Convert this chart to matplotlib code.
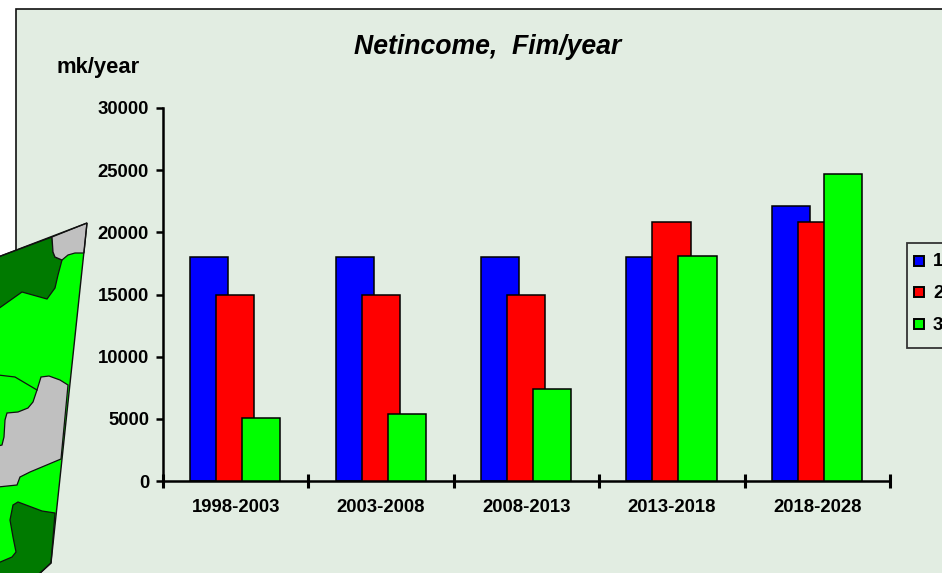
import numpy as np
import matplotlib
matplotlib.use('Agg')
import matplotlib.pyplot as plt
from matplotlib.patches import Polygon, Rectangle

plt.rcParams['font.family'] = ['Liberation Sans', 'DejaVu Sans']

periods = ['1998-2003', '2003-2008', '2008-2013', '2013-2018', '2018-2028']
series_names = ['1', '2', '3']
income_1 = [18000, 18000, 18000, 18000, 22100]
income_2 = [15000, 15000, 15000, 20800, 20800]
income_3 = [5100, 5400, 7400, 18100, 24700]
yticks = [0, 5000, 10000, 15000, 20000, 25000, 30000]
colors = ['#0000ff', '#ff0000', '#00ff00']

W, H = 942, 573
PANEL = '#e2ede2'
DARK = '#007a00'
LIGHT = '#00ff00'
GREY = '#c0c0c0'


def ax_rect(left, top, right, bottom):
    return [left / W, 1 - bottom / H, (right - left) / W, (bottom - top) / H]


fig = plt.figure(figsize=(W / 100, H / 100), dpi=100, facecolor='white')

# background sheet in pixel coordinates
bg = fig.add_axes([0, 0, 1, 1], zorder=0)
bg.set_xlim(0, W)
bg.set_ylim(H, 0)
bg.axis('off')
bg.add_patch(Rectangle((16, 9), W, H, fc=PANEL, ec='#111111', lw=1.2))

# chart
ax = fig.add_axes(ax_rect(163, 108, 890, 481), zorder=1)
ax.patch.set_alpha(0)
x = np.arange(len(periods))
width = 0.262
step = 0.179
for i, vals in enumerate([income_1, income_2, income_3]):
    ax.bar(x - 0.003 + (i - 1) * step, vals, width, color=colors[i], edgecolor='black', linewidth=1.1, zorder=2 + i)
ax.set_xlim(-0.5, 4.5)
ax.set_ylim(0, 30000)
ax.set_yticks(yticks)
ax.set_xticks(x)
ax.set_xticklabels(periods)
ax.set_xticks(np.arange(-0.5, 5), minor=True)
ax.tick_params(axis='x', which='major', length=0, pad=13, labelsize=13.3)
ax.tick_params(axis='x', which='minor', length=9.5, width=2.2, direction='inout')
ax.tick_params(axis='y', length=5, width=1.8, pad=5, labelsize=13.3)
for lab in ax.get_xticklabels() + ax.get_yticklabels():
    lab.set_fontweight('bold')
for s in ['top', 'right']:
    ax.spines[s].set_visible(False)
ax.spines['left'].set_linewidth(1.8)
ax.spines['bottom'].set_linewidth(1.8)

# overlay for the texts, the legend and the map
top = fig.add_axes([0, 0, 1, 1], zorder=2)
top.set_xlim(0, W)
top.set_ylim(H, 0)
top.axis('off')
top.text(487.5, 54, 'Netincome,  Fim/year', fontsize=19.2, fontweight='bold', fontstyle='italic', ha='center', va='baseline')
top.text(57, 73, 'mk/year', fontsize=15.8, fontweight='bold', ha='left', va='baseline')

# legend box runs off the right edge
top.add_patch(Rectangle((907, 243), 60, 105, fc=PANEL, ec='#333333', lw=1.3))
for y, c, name in zip([260.5, 292, 324], colors, series_names):
    top.add_patch(Rectangle((914, y - 5), 10, 10, fc=c, ec='black', lw=1.4))
    top.text(933, y + 6, name, fontsize=13.5, fontweight='bold', va='baseline')

# map fragment, traced in pixels
outline = [(-2, 257), (87, 223), (51, 563), (38, 575), (-2, 575)]
dark_top = [(-2, 257), (52, 237), (53, 252), (55, 257), (62, 260), (58, 275), (55, 288), (47, 299), (22, 292), (-2, 309)]
grey_top = [(52, 237), (87, 223), (84, 253), (75, 253), (68, 255), (62, 260), (55, 257), (53, 252)]
grey_mid = [(-2, 487), (17, 485), (20, 477), (30, 472), (61, 459), (68, 385), (60, 380), (49, 376), (41, 377),
            (37, 390), (33, 402), (28, 408), (18, 412), (7, 413), (5, 420), (4, 437), (2, 445), (-2, 446)]
dark_low = [(18, 502), (42, 511), (55, 513), (51, 563), (38, 575), (-2, 575), (-2, 563), (12, 557), (16, 552),
            (13, 537), (10, 520), (13, 505)]
line_a = [(-2, 375), (15, 377), (37, 390)]

top.add_patch(Polygon(outline, fc=LIGHT, ec='none', zorder=3))
for pts, col in [(dark_top, DARK), (grey_top, GREY), (grey_mid, GREY), (dark_low, DARK)]:
    top.add_patch(Polygon(pts, fc=col, ec='#111111', lw=0.9, zorder=4))
top.plot(*zip(*line_a), color='#111111', lw=0.9, zorder=4)
top.add_patch(Polygon(outline, fc='none', ec='#111111', lw=1, zorder=5))

fig.savefig('out.png', dpi=100)
